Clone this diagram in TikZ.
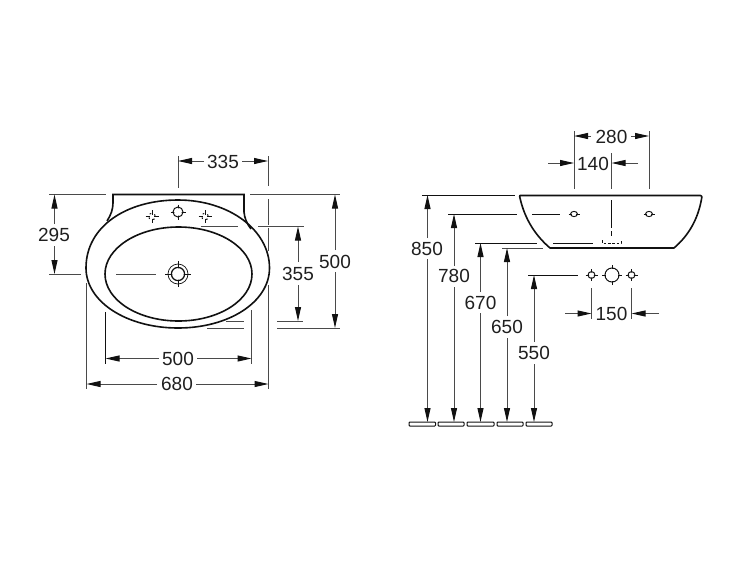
\documentclass[tikz,border=0pt]{standalone}
\usepackage{fontspec}
\setmainfont{Liberation Sans}
\usetikzlibrary{arrows.meta}
\definecolor{ink}{HTML}{111111}
\definecolor{dimc}{HTML}{4A4A4A}
\tikzset{
  outline/.style={draw=ink,line width=1.6pt},
  thin part/.style={draw=ink,line width=1pt},
  extline/.style={draw=dimc,line width=1pt},
  dimarrow/.style={draw=dimc,line width=1pt,-{Triangle[length=14pt,width=6pt,color=ink]}},
  dimlabel/.style={text=black!88,inner sep=0pt,font=\fontsize{19}{21}\selectfont}
}
\newcommand{\smallhole}[2]{%
  \draw[thin part] (#1,#2) circle (3.4pt);
  \draw[thin part] (#1-6,#2)--(#1+6,#2) (#1,#2-6)--(#1,#2+6);
  \fill[white] (#1,#2) circle (2.4pt);}
\newcommand{\dothole}[2]{%
  \draw[thin part,dash pattern=on 1.6pt off 3.7pt,dash phase=-.8pt] (#1,#2) circle (3.4pt);
  \draw[thin part] (#1-6.5,#2)--(#1-2,#2) (#1+2,#2)--(#1+6.5,#2) (#1,#2-6.5)--(#1,#2-2) (#1,#2+2)--(#1,#2+6.5);}
\begin{document}
\begin{tikzpicture}[x=1pt,y=-1pt]
\useasboundingbox (0,0) rectangle (750,563);
% ---- plan view
\draw[outline] (113,203) -- (113,194.5) -- (244,194.5) -- (244,212) .. controls (244.5,218) and (247,224) .. (251,229);
\draw[outline] (113,203) .. controls (113,209) and (111,215) .. (107,221);
\draw[outline] (178,200) .. controls (127,200) and (86,226) .. (86,268)
  .. controls (86,302) and (127,328) .. (178,328)
  .. controls (229,328) and (269.5,302) .. (269.5,268)
  .. controls (269.5,230) and (229,200) .. (178,200) -- cycle;
\draw[outline] (178.5,274) ellipse (73.5pt and 47pt);
\draw[thin part] (178,212) circle (5pt);
\draw[thin part] (170.5,212)--(185.5,212) (178,204.5)--(178,219.5);
\fill[white] (178,212) circle (3.8pt);
\dothole{152}{216.5}
\dothole{205}{216.5}
\draw[thin part,line width=.7pt] (178,274) circle (10pt);
\draw[thin part,line width=1.4pt] (178,274) circle (6.5pt);
\draw[thin part] (165,274)--(191,274) (178,261)--(178,287);
\fill[white] (178,274) circle (5.7pt);
% dimension 335
\draw[extline] (178,156)--(178,188);
\draw[extline] (268,156)--(268,186) (268,199)--(268,225) (268,228)--(268,251);
\draw[dimarrow] (204,161)--(178,161);
\draw[dimarrow] (242,161)--(268,161);
\node[dimlabel] (d335) at (223,161.5) {335};
% dimension 295
\draw[extline] (49,194.5)--(106,194.5);
\draw[extline] (49,274)--(81,274) (116,274)--(156,274);
\draw[dimarrow] (54.5,224)--(54.5,194.5);
\draw[dimarrow] (54.5,246)--(54.5,274);
\node[dimlabel] (d295) at (54,234.5) {295};
% dimension 500 (height)
\draw[extline] (250,194.5)--(340,194.5);
\draw[extline] (277,328)--(340,328) (207,328)--(243.5,328);
\draw[dimarrow] (335,250)--(335,194.5);
\draw[dimarrow] (335,272)--(335,328);
\node[dimlabel] (d500h) at (335,261.5) {500};
% dimension 355
\draw[extline] (200.5,226.5)--(238,226.5) (258,226.5)--(304,226.5);
\draw[extline] (277,321)--(303,321) (226,321)--(243.5,321);
\draw[dimarrow] (298,262)--(298,226.5);
\draw[dimarrow] (298,285)--(298,321);
\node[dimlabel] (d355) at (298,274) {355};
% dimension 500 (width)
\draw[thin part] (105.5,312)--(105.5,364);
\draw[extline] (251.5,310)--(251.5,364);
\draw[dimarrow] (159,358.5)--(105.5,358.5);
\draw[dimarrow] (197,358.5)--(251.5,358.5);
\node[dimlabel] (d500w) at (178,358.5) {500};
% dimension 680
\draw[extline] (86.5,283)--(86.5,389) (268.5,285)--(268.5,389);
\draw[dimarrow] (157,384)--(86.5,384);
\draw[dimarrow] (196,384)--(268.5,384);
\node[dimlabel] (d680) at (177,384) {680};
% ---- side view
\draw[outline,line join=round] (520,195.5) -- (700.5,195.5) .. controls (702,195.5) and (702,197) .. (701.7,198)
  .. controls (698,220) and (688,236) .. (674,248) -- (550,248)
  .. controls (536,236) and (525,220) .. (520,198) .. controls (519.5,197) and (519.5,195.5) .. (520,195.5) -- cycle;
\draw[thin part] (532,214)--(560,214);
\draw[thin part] (574,214) ellipse (3.4pt and 2.6pt);
\draw[thin part] (568.5,214)--(579.5,214);
\fill[white] (574,214) ellipse (2.2pt and 1.6pt);
\draw[thin part] (649,214) ellipse (3.4pt and 2.6pt);
\draw[thin part] (643.5,214)--(654.5,214);
\fill[white] (649,214) ellipse (2.2pt and 1.6pt);
\draw[thin part] (611.5,200)--(611.5,228) (611.5,231)--(611.5,236);
\draw[thin part,dash pattern=on 2.5pt off 1.8pt] (602.5,240)--(602.5,243)--(621,243)--(621,240);
\draw[thin part] (553,243)--(593,243);
% heights
\draw[thin part] (422,195)--(515,195);
\draw[thin part] (448,214)--(517,214);
\draw[thin part] (475,243)--(537,243);
\draw[extline] (502,248)--(543,248);
\draw[thin part] (528,275)--(578,275);
\draw[dimarrow] (427.5,238)--(427.5,195);
\draw[dimarrow] (427.5,259)--(427.5,422);
\node[dimlabel] (d850) at (427,248.5) {850};
\draw[dimarrow] (454,266)--(454,214);
\draw[dimarrow] (454,287)--(454,422);
\node[dimlabel] (d780) at (454,276) {780};
\draw[dimarrow] (480.5,292)--(480.5,243);
\draw[dimarrow] (480.5,313)--(480.5,422);
\node[dimlabel] (d670) at (480.5,302.5) {670};
\draw[dimarrow] (507,316)--(507,248);
\draw[dimarrow] (507,338)--(507,422);
\node[dimlabel] (d650) at (507,327) {650};
\draw[dimarrow] (534,342)--(534,275);
\draw[dimarrow] (534,364)--(534,422);
\node[dimlabel] (d550) at (534,353) {550};
% floor
\foreach \a/\b in {409/435.5,438/464,467/494,497/523,526/552}
  \draw[thin part,rounded corners=.8pt] (\a,422) rectangle (\b,426);
% lower holes
\smallhole{591.5}{275}
\smallhole{631.5}{275}
\draw[thin part] (612,275) circle (7pt);
\draw[thin part] (602,275)--(622,275) (612,265)--(612,285);
\fill[white] (612,275) circle (6pt);
% dimension 150
\draw[extline] (591.5,288)--(591.5,319) (631.5,288)--(631.5,319);
\draw[dimarrow] (565,313.5)--(591.5,313.5);
\draw[dimarrow] (659,313.5)--(631.5,313.5);
\node[dimlabel] (d150) at (611.5,313.5) {150};
% dimension 280 / 140
\draw[extline] (574,131)--(574,189) (649,131)--(649,189) (611.5,153)--(611.5,189);
\draw[dimarrow] (591,136)--(574,136);
\draw[dimarrow] (631,136)--(649,136);
\node[dimlabel] (d280) at (611.5,136.5) {280};
\draw[dimarrow] (548,163)--(574,163);
\draw[dimarrow] (638,163)--(611.5,163);
\node[dimlabel] (d140) at (593,163.5) {140};
\end{tikzpicture}
\end{document}
